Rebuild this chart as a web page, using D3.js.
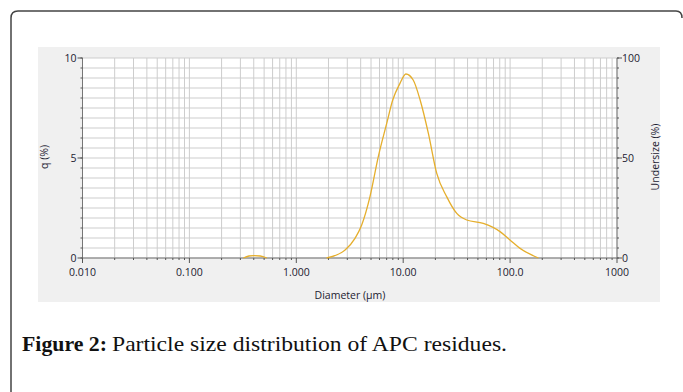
<!DOCTYPE html>
<html>
<head>
<meta charset="utf-8">
<script src="https://cdn.jsdelivr.net/npm/d3@7"></script>
<style>
  body { margin: 0; background: #fff; }
  svg { display: block; }
</style>
</head>
<body>
<svg width="683" height="392"></svg>
<script>
// Values
const smallDiameter = [0.32, 0.36, 0.40, 0.46, 0.53];
const smallQ = [0.0, 0.1, 0.12, 0.1, 0.0];

const diameter = [1.92, 2.86, 3.54, 4.09, 4.89, 5.85, 7.01, 7.98, 9.33, 10.6, 12.4, 14.4, 17.2, 20.6, 25.5, 31.7, 39.3, 56.1, 80.5, 99.8, 124, 184];
const q = [0.0, 0.4, 0.98, 1.65, 3.07, 5.07, 6.73, 7.9, 8.73, 9.2, 8.9, 7.9, 6.23, 4.23, 3.07, 2.23, 1.9, 1.73, 1.32, 0.9, 0.48, 0.0];

const xTicks = [0.01, 0.1, 1, 10, 100, 1000];
const xTickLabels = ["0.010", "0.100", "1.000", "10.00", "100.0", "1000"];
const leftTicks = [0, 5, 10];
const rightTicks = [0, 50, 100];

const svg = d3.select("svg");
const font = "'Open Sans', 'DejaVu Sans', sans-serif";
const textColor = "#1c2130";

// Outer frame
svg.append("path")
    .attr("d", "M11,392 L11,18 Q11,11 18,11 L676,11 Q682,11 682,18")
    .attr("fill", "none")
    .attr("stroke", "#444")
    .attr("stroke-width", 1.5);

// Gray chart panel
svg.append("rect")
    .attr("x", 38).attr("y", 47)
    .attr("width", 622).attr("height", 255)
    .attr("fill", "#f0f0f0");

const pl = 82.5, pr = 617, pt = 58, pb = 258;

const x = d3.scaleLog().domain([0.01, 1000]).range([pl, pr]);
const y = d3.scaleLinear().domain([0, 10]).range([pb, pt]);
const y2 = d3.scaleLinear().domain([0, 100]).range([pb, pt]);

svg.append("rect")
    .attr("x", pl).attr("y", pt)
    .attr("width", pr - pl).attr("height", pb - pt)
    .attr("fill", "#fff");

// Grid
const minorX = [];
for (let e = -2; e < 3; e++) {
  for (let m = 1; m < 10; m++) minorX.push(m * Math.pow(10, e));
}
minorX.push(1000);
const gridY = d3.range(0, 10.01, 0.5);

svg.append("g").selectAll("line")
    .data(minorX)
    .join("line")
    .attr("x1", d => x(d)).attr("x2", d => x(d))
    .attr("y1", pt).attr("y2", pb)
    .attr("stroke", "#cdcdcd")
    .attr("stroke-width", 1);

svg.append("g").selectAll("line")
    .data(gridY)
    .join("line")
    .attr("x1", pl).attr("x2", pr)
    .attr("y1", d => y(d)).attr("y2", d => y(d))
    .attr("stroke", "#cdcdcd")
    .attr("stroke-width", 1);

// Axes
const axisColor = "#777";
svg.append("line").attr("x1", pl).attr("x2", pr).attr("y1", pb).attr("y2", pb).attr("stroke", axisColor);
svg.append("line").attr("x1", pl).attr("x2", pl).attr("y1", pt).attr("y2", pb).attr("stroke", axisColor);
svg.append("line").attr("x1", pr).attr("x2", pr).attr("y1", pt).attr("y2", pb).attr("stroke", axisColor);

// bottom minor / major ticks
svg.append("g").selectAll("line")
    .data(minorX.filter(d => !xTicks.includes(d)))
    .join("line")
    .attr("x1", d => x(d)).attr("x2", d => x(d))
    .attr("y1", pb).attr("y2", pb + 2)
    .attr("stroke", "#555");
svg.append("g").selectAll("line")
    .data(xTicks)
    .join("line")
    .attr("x1", d => x(d)).attr("x2", d => x(d))
    .attr("y1", pb).attr("y2", pb + 5)
    .attr("stroke", "#555");

svg.append("g").selectAll("text")
    .data(xTicks)
    .join("text")
    .attr("x", d => x(d)).attr("y", pb + 18)
    .attr("text-anchor", "middle")
    .attr("font-family", font).attr("font-size", 10.5)
    .attr("fill", textColor)
    .text((d, i) => xTickLabels[i]);

// left ticks
svg.append("g").selectAll("line")
    .data(gridY)
    .join("line")
    .attr("x1", pl - 2).attr("x2", pl)
    .attr("y1", d => y(d)).attr("y2", d => y(d))
    .attr("stroke", "#555");
svg.append("g").selectAll("line")
    .data(leftTicks)
    .join("line")
    .attr("x1", pl - 5).attr("x2", pl)
    .attr("y1", d => y(d)).attr("y2", d => y(d))
    .attr("stroke", "#555");
svg.append("g").selectAll("text")
    .data(leftTicks)
    .join("text")
    .attr("x", pl - 6).attr("y", d => y(d) + 3.5)
    .attr("text-anchor", "end")
    .attr("font-family", font).attr("font-size", 10.5)
    .attr("fill", textColor)
    .text(d => d);

// right ticks
svg.append("g").selectAll("line")
    .data(d3.range(0, 100.1, 5))
    .join("line")
    .attr("x1", pr).attr("x2", pr + 2)
    .attr("y1", d => y2(d)).attr("y2", d => y2(d))
    .attr("stroke", "#555");
svg.append("g").selectAll("line")
    .data(rightTicks)
    .join("line")
    .attr("x1", pr).attr("x2", pr + 5)
    .attr("y1", d => y2(d)).attr("y2", d => y2(d))
    .attr("stroke", "#555");
svg.append("g").selectAll("text")
    .data(rightTicks)
    .join("text")
    .attr("x", pr + 5).attr("y", d => y2(d) + 3.5)
    .attr("text-anchor", "start")
    .attr("font-family", font).attr("font-size", 10.5)
    .attr("fill", textColor)
    .text(d => d);

// Axis titles
svg.append("text")
    .attr("x", 350).attr("y", 299)
    .attr("text-anchor", "middle")
    .attr("font-family", font).attr("font-size", 10.5)
    .attr("fill", textColor)
    .text("Diameter (µm)");
svg.append("text")
    .attr("transform", "translate(48,157) rotate(-90)")
    .attr("text-anchor", "middle")
    .attr("font-family", font).attr("font-size", 10.5)
    .attr("fill", textColor)
    .text("q (%)");
svg.append("text")
    .attr("transform", "translate(659,157) rotate(-90)")
    .attr("text-anchor", "middle")
    .attr("font-family", font).attr("font-size", 10.5)
    .attr("fill", textColor)
    .text("Undersize (%)");

// Curves
const line = d3.line()
    .x(d => x(d[0]))
    .y(d => y(d[1]))
    .curve(d3.curveMonotoneX);

[d3.zip(smallDiameter, smallQ), d3.zip(diameter, q)].forEach(pts => {
  svg.append("path")
      .datum(pts)
      .attr("d", line)
      .attr("fill", "none")
      .attr("stroke", "#e5ae2c")
      .attr("stroke-width", 1.3);
});

// Caption
const cap = svg.append("text")
    .attr("y", 351)
    .attr("font-family", "'Liberation Serif', 'DejaVu Serif', serif")
    .attr("font-size", 22)
    .attr("fill", "#111");
cap.append("tspan")
    .attr("x", 22)
    .attr("font-weight", "bold")
    .attr("textLength", 85)
    .attr("lengthAdjust", "spacingAndGlyphs")
    .text("Figure 2:");
cap.append("tspan")
    .attr("x", 112)
    .attr("textLength", 395)
    .attr("lengthAdjust", "spacingAndGlyphs")
    .text("Particle size distribution of APC residues.");
</script>
</body>
</html>
